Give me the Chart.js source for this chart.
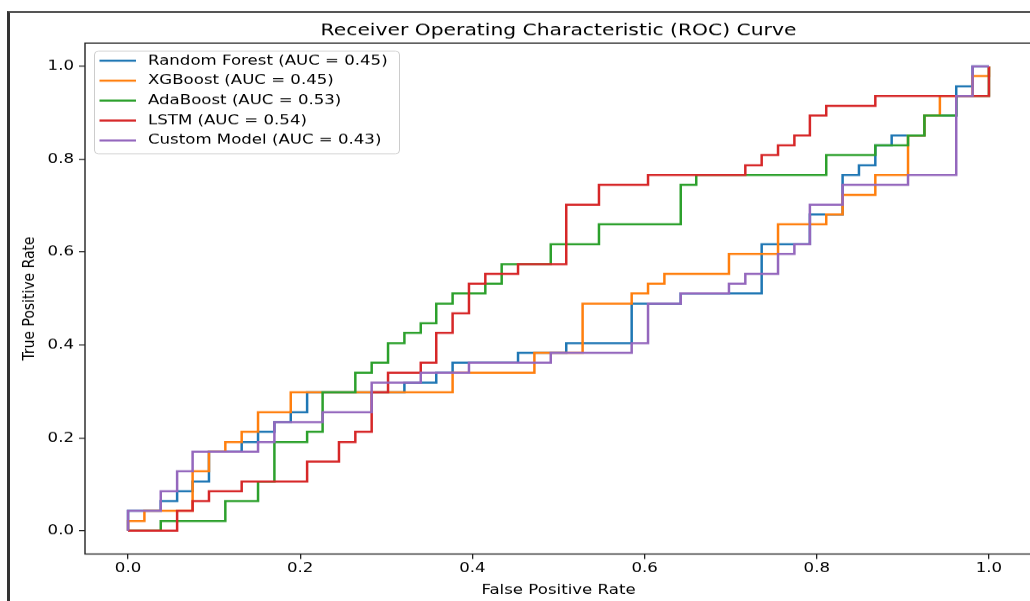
<!DOCTYPE html>
<html>
<head>
<meta charset="utf-8">
<script src="https://cdn.jsdelivr.net/npm/chart.js@4.4.0/dist/chart.umd.min.js"></script>
<style>
  html, body { margin: 0; padding: 0; background: #fff; overflow: hidden; }
  #frame { position: absolute; left: 7px; top: 11px; right: 0; bottom: 0;
           border-left: 3px solid #333; border-top: 2px solid #555; }
  /* the reference picture is a bit squashed vertically */
  #roc { position: absolute; left: 0; top: 0; transform: scaleY(0.84); transform-origin: 0 0; }
</style>
</head>
<body>
<div id="frame"></div>
<canvas id="roc" width="1033" height="715"></canvas>
<script>
// ROC corner points [fpr, tpr]
const rfRoc = [[0,0],[0,.043],[.038,.043],[.038,.064],[.057,.064],[.057,.085],[.075,.085],[.075,.106],[.094,.106],[.094,.170],[.132,.170],[.132,.191],[.151,.191],[.151,.213],[.170,.213],[.170,.234],[.189,.234],[.189,.255],[.208,.255],[.208,.298],[.321,.298],[.321,.319],[.358,.319],[.358,.340],[.377,.340],[.377,.362],[.453,.362],[.453,.383],[.509,.383],[.509,.404],[.585,.404],[.585,.489],[.642,.489],[.642,.511],[.736,.511],[.736,.617],[.792,.617],[.792,.681],[.830,.681],[.830,.766],[.849,.766],[.849,.787],[.868,.787],[.868,.830],[.887,.830],[.887,.851],[.925,.851],[.925,.894],[.962,.894],[.962,.957],[.981,.957],[.981,1],[1,1]];

const xgbRoc = [[0,0],[0,.021],[.019,.021],[.019,.043],[.075,.043],[.075,.128],[.094,.128],[.094,.170],[.113,.170],[.113,.191],[.132,.191],[.132,.213],[.151,.213],[.151,.255],[.189,.255],[.189,.298],[.377,.298],[.377,.340],[.472,.340],[.472,.383],[.528,.383],[.528,.489],[.585,.489],[.585,.511],[.604,.511],[.604,.532],[.623,.532],[.623,.553],[.698,.553],[.698,.596],[.755,.596],[.755,.660],[.811,.660],[.811,.681],[.830,.681],[.830,.723],[.868,.723],[.868,.766],[.906,.766],[.906,.851],[.925,.851],[.925,.894],[.943,.894],[.943,.936],[.981,.936],[.981,.979],[1,.979],[1,1]];

const adaRoc = [[0,0],[.038,0],[.038,.021],[.113,.021],[.113,.064],[.151,.064],[.151,.106],[.170,.106],[.170,.191],[.208,.191],[.208,.213],[.226,.213],[.226,.298],[.264,.298],[.264,.340],[.283,.340],[.283,.362],[.302,.362],[.302,.404],[.321,.404],[.321,.426],[.340,.426],[.340,.447],[.358,.447],[.358,.489],[.377,.489],[.377,.511],[.415,.511],[.415,.532],[.434,.532],[.434,.574],[.491,.574],[.491,.617],[.547,.617],[.547,.660],[.642,.660],[.642,.745],[.660,.745],[.660,.766],[.811,.766],[.811,.809],[.868,.809],[.868,.830],[.906,.830],[.906,.851],[.925,.851],[.925,.894],[.962,.894],[.962,.936],[1,.936],[1,1]];

const lstmRoc = [[0,0],[.057,0],[.057,.043],[.075,.043],[.075,.064],[.094,.064],[.094,.085],[.132,.085],[.132,.106],[.208,.106],[.208,.149],[.245,.149],[.245,.191],[.264,.191],[.264,.213],[.283,.213],[.283,.298],[.302,.298],[.302,.340],[.340,.340],[.340,.362],[.358,.362],[.358,.426],[.377,.426],[.377,.468],[.396,.468],[.396,.532],[.415,.532],[.415,.553],[.453,.553],[.453,.574],[.509,.574],[.509,.702],[.547,.702],[.547,.745],[.604,.745],[.604,.766],[.717,.766],[.717,.787],[.736,.787],[.736,.809],[.755,.809],[.755,.830],[.774,.830],[.774,.851],[.792,.851],[.792,.894],[.811,.894],[.811,.915],[.868,.915],[.868,.936],[1,.936],[1,1]];

const customRoc = [[0,0],[0,.043],[.038,.043],[.038,.085],[.057,.085],[.057,.128],[.075,.128],[.075,.170],[.151,.170],[.151,.191],[.170,.191],[.170,.234],[.226,.234],[.226,.255],[.283,.255],[.283,.319],[.340,.319],[.340,.340],[.396,.340],[.396,.362],[.491,.362],[.491,.383],[.585,.383],[.585,.404],[.604,.404],[.604,.489],[.642,.489],[.642,.511],[.698,.511],[.698,.532],[.717,.532],[.717,.553],[.755,.553],[.755,.596],[.774,.596],[.774,.617],[.792,.617],[.792,.702],[.830,.702],[.830,.745],[.906,.745],[.906,.766],[.962,.766],[.962,.936],[.981,.936],[.981,1],[1,1]];

const modelNames = ['Random Forest', 'XGBoost', 'AdaBoost', 'LSTM', 'Custom Model'];
const aucValues = [0.45, 0.45, 0.53, 0.54, 0.43];
const colors = ['#1f77b4', '#ff7f0e', '#2ca02c', '#d62728', '#9467bd'];
const tickValues = [0, 0.2, 0.4, 0.6, 0.8, 1.0];

const FONT = 'DejaVu Sans';
const curves = [rfRoc, xgbRoc, adaRoc, lstmRoc, customRoc];

// matplotlib style box around the plot
const axesFrame = {
  id: 'axesFrame',
  afterDatasetsDraw(chart) {
    const {ctx, chartArea: a} = chart;
    ctx.save();
    ctx.strokeStyle = '#222';
    ctx.lineWidth = 1.4;
    ctx.strokeRect(a.left, a.top, a.right - a.left, a.bottom - a.top);
    ctx.restore();
  }
};

// legend drawn inside the plot, upper left, like plt.legend()
const insideLegend = {
  id: 'insideLegend',
  afterDatasetsDraw(chart) {
    const {ctx, chartArea: a} = chart;
    const x = a.left + 9, y = a.top + 9.2;
    const rowH = 23.7;
    ctx.save();
    ctx.beginPath();
    ctx.roundRect(x + 0.5, y + 0.5, 305, 122, 4);
    ctx.fillStyle = 'rgba(255,255,255,0.8)';
    ctx.fill();
    ctx.strokeStyle = '#cccccc';
    ctx.lineWidth = 1;
    ctx.stroke();
    ctx.font = '16.6px "' + FONT + '"';
    ctx.textBaseline = 'middle';
    chart.data.datasets.forEach((ds, i) => {
      const cy = y + 11.9 + i * rowH;
      ctx.strokeStyle = ds.borderColor;
      ctx.lineWidth = 2.5;
      ctx.beginPath();
      ctx.moveTo(x + 5.5, cy);
      ctx.lineTo(x + 42, cy);
      ctx.stroke();
      ctx.fillStyle = '#000';
      ctx.fillText(ds.label, x + 54, cy);
    });
    ctx.restore();
  }
};

function axis(titleText, titlePadding, tickPadding, fit) {
  return {
    type: 'linear',
    min: -0.05,
    max: 1.05,
    afterBuildTicks: s => { s.ticks = tickValues.map(v => ({value: v})); },
    afterFit: fit,
    ticks: {
      color: '#000',
      padding: tickPadding,
      maxRotation: 0,
      font: {family: FONT, size: 16.6},
      callback: v => v.toFixed(1)
    },
    grid: {display: true, drawOnChartArea: false, drawTicks: true, tickLength: 6, color: '#222', lineWidth: 1.3},
    border: {display: false},
    title: {display: true, text: titleText, color: '#000', font: {family: FONT, size: 16.6}, padding: titlePadding}
  };
}

new Chart(document.getElementById('roc').getContext('2d'), {
  type: 'scatter',
  data: {
    datasets: curves.map((pts, i) => ({
      label: modelNames[i] + ' (AUC = ' + aucValues[i].toFixed(2) + ')',
      data: pts.map(([x, y]) => ({x, y})),
      showLine: true,
      borderColor: colors[i],
      backgroundColor: colors[i],
      borderWidth: 2.5,
      pointRadius: 0,
      tension: 0,
      order: curves.length - i
    }))
  },
  options: {
    responsive: false,
    animation: false,
    devicePixelRatio: 1,
    layout: {padding: {left: 0, top: 0, bottom: 0, right: 1}},
    plugins: {
      legend: {display: false},
      tooltip: {enabled: false},
      title: {
        display: true,
        fullSize: false,
        text: 'Receiver Operating Characteristic (ROC) Curve',
        color: '#000',
        font: {family: FONT, size: 20.3, weight: 'normal'},
        padding: {top: 24.9, bottom: 2.0}
      }
    },
    scales: {
      x: axis('False Positive Rate', {top: 0, bottom: 2}, 1, s => { s.height = 55.5; }),
      y: axis('True Positive Rate', {top: 20, bottom: 0}, 5, s => { s.width = 85; })
    }
  },
  plugins: [axesFrame, insideLegend]
});
</script>
</body>
</html>
